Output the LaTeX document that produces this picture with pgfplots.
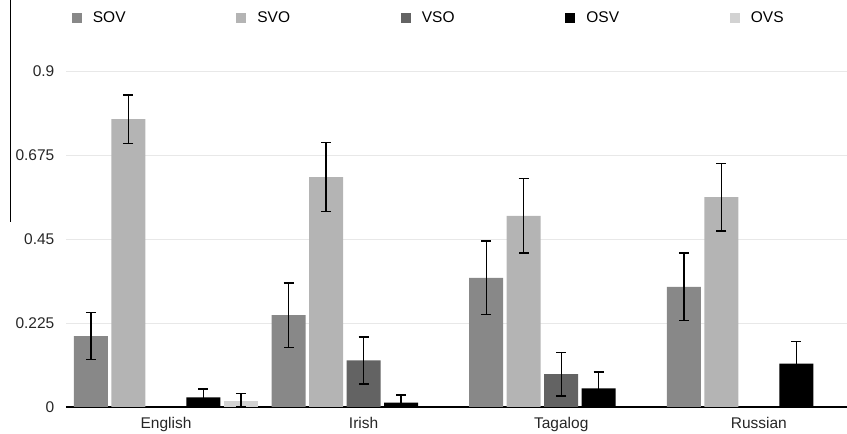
\documentclass[border=0pt]{standalone}
\usepackage{pgfplots}
\pgfplotsset{compat=1.18}
\usepackage{fontspec}
\setmainfont{Liberation Sans}
\definecolor{cSOV}{HTML}{888888}
\definecolor{cSVO}{HTML}{B4B4B4}
\definecolor{cVSO}{HTML}{636363}
\definecolor{cOSV}{HTML}{000000}
\definecolor{cOVS}{HTML}{D2D2D2}
\newcommand{\lent}[1]{\hspace{11pt}\makebox[143.5pt][l]{#1}}
\begin{document}
\begin{tikzpicture}
\begin{axis}[
  scale only axis,
  width=781pt, height=373.3pt,
  xmin=-0.506, xmax=3.446,
  ymin=0, ymax=1.0,
  axis x line=bottom, axis y line=left,
  x axis line style={-, line width=1.3pt, black},
  y axis line style={draw=none},
  xtick={0,1,2,3},
  xticklabels={English,Irish,Tagalog,Russian},
  xtick style={draw=none},
  ytick={0,0.225,0.45,0.675,0.9},
  yticklabels={0,0.225,0.45,0.675,0.9},
  ymajorgrids,
  grid style={line width=0.8pt, color=black!9},
  ytick style={draw=none},
  /pgf/number format/assume math mode=true,
  tick label style={font=\fontsize{15.5}{18}\selectfont, text=black!85},
  yticklabel style={xshift=-6pt},
  xticklabel style={yshift=-2pt},
  ybar, bar width=34pt,
  error bars/y dir=both, error bars/y explicit,
  error bars/error bar style={line width=1.4pt, black},
  error bars/error mark options={rotate=90, mark size=5pt, line width=1.4pt, black},
  legend columns=5,
  legend style={at={(5.7/781,1.042)}, anchor=west, draw=none, fill=none, inner sep=0pt,
    column sep=0pt, font=\fontsize{15.5}{18}\selectfont, nodes={inner sep=0pt}},
  legend image code/.code={\fill[#1] (0pt,-5pt) rectangle (10pt,5pt);},
  clip=false,
]
\addplot+[bar shift=-75pt, fill=cSOV, draw=none] coordinates {
  (0,0.19) +- (0,0.063)
  (1,0.246) +- (0,0.086)
  (2,0.346) +- (0,0.099)
  (3,0.322) +- (0,0.090)
};
\addlegendentry{\lent{SOV}}
\addplot+[bar shift=-37.5pt, fill=cSVO, draw=none] coordinates {
  (0,0.771) +- (0,0.065)
  (1,0.616) +- (0,0.092)
  (2,0.512) +- (0,0.100)
  (3,0.562) +- (0,0.090)
};
\addlegendentry{\lent{SVO}}
\addplot+[bar shift=0pt, fill=cVSO, draw=none] coordinates {
  (1,0.125) +- (0,0.063)
  (2,0.088) +- (0,0.058)
};
\addlegendentry{\lent{VSO}}
\addplot+[bar shift=37.5pt, fill=cOSV, draw=none] coordinates {
  (0,0.026) += (0,0.022) -= (0,0.023)
  (1,0.012) += (0,0.020) -= (0,0.011)
  (2,0.050) +- (0,0.044)
  (3,0.116) +- (0,0.060)
};
\addlegendentry{\lent{OSV}}
\addplot+[bar shift=75pt, fill=cOVS, draw=none] coordinates {
  (0,0.016) += (0,0.020) -= (0,0.015)
};
\addlegendentry{\lent{OVS}}
\coordinate (BL) at (rel axis cs:0,0);
\end{axis}
\draw[line width=0.9pt] ([shift={(-55.3pt,185pt)}]BL) -- ([shift={(-55.3pt,407pt)}]BL);
\pgfresetboundingbox
\path[use as bounding box] ([shift={(-66pt,-27pt)}]BL) rectangle ([shift={(781pt,407pt)}]BL);
\end{tikzpicture}
\end{document}
